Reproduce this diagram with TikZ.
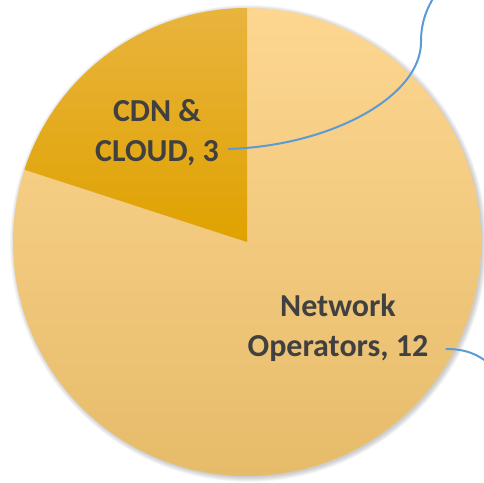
\documentclass[tikz,border=0pt]{standalone}
\usepackage{fontspec}
\setmainfont{Carlito}
\usepackage{tikz}

\definecolor{opTop}{HTML}{FDD691}
\definecolor{opBot}{HTML}{E6BC6A}
\definecolor{cdnTop}{HTML}{E9B43E}
\definecolor{cdnMid}{HTML}{ECAE06}
\definecolor{cdnBot}{HTML}{DFA200}
\definecolor{lbl}{HTML}{404040}
\definecolor{leader}{HTML}{5B9BD5}

\begin{document}
\begin{tikzpicture}[x=1pt, y=1pt,
    lab/.style = {font=\bfseries\fontsize{32}{40}\selectfont, text=lbl, align=center, inner sep=0pt},
    lead/.style = {draw=leader, line width=2pt}]
                \useasboundingbox (0,0) rectangle (484,482);
                \clip (0,0) rectangle (484,482);
                \coordinate (c) at (247,240);
                % soft shadow
                \foreach \i in {1,...,6}
                    \fill[black, opacity=0.035] ([xshift=1.5pt, yshift=-1.5pt]c) circle ({233+\i*0.9});
                % slices
                \shade[top color=opTop, bottom color=opBot]
                    (c) -- ++(90:234) arc (90:-198:234) -- cycle;
                \shade[top color=cdnTop, middle color=cdnMid, bottom color=cdnBot]
                    (c) -- ++(90:234) arc (90:162:234) -- cycle;
                % labels
                \node[lab] (cdn) at (157,349) {CDN \&\\CLOUD, 3};
                \node[lab] (net) at (338,154) {Network\\Operators, 12};
                \coordinate (cdnend) at (437,490);
                \coordinate (netend) at (492,116);
                \draw[lead] ([xshift=9pt, yshift=-16pt]cdn.east) .. controls (330,336) and (421,385) .. (421,440)
                    .. controls (421,462) and (428,476) .. (cdnend);
                \draw[lead] ([xshift=17pt, yshift=-21pt]net.east) .. controls (466,133) and (478,128) .. (netend);
            \end{tikzpicture}
\end{document}
